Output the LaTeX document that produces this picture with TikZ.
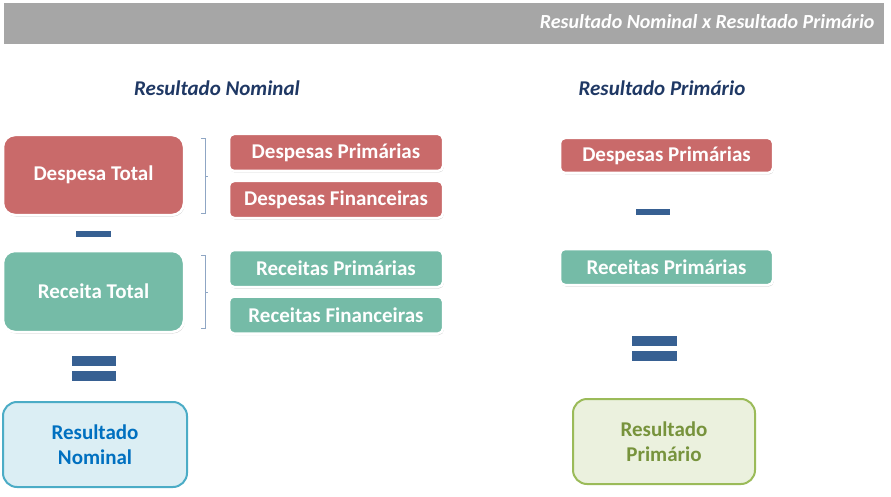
\documentclass[tikz,border=0pt]{standalone}
\usepackage{fontspec}
\setmainfont{Carlito}
\usetikzlibrary{shadows}
\definecolor{redbox}{HTML}{C96A6A}
\definecolor{tealbox}{HTML}{75BBA7}
\definecolor{signblue}{HTML}{376092}
\definecolor{headblue}{HTML}{1F3864}
\definecolor{bargray}{HTML}{A6A6A6}
\definecolor{brackcol}{HTML}{8FA6C4}
\definecolor{nomfill}{HTML}{DBEEF4}
\definecolor{nomdraw}{HTML}{4BACC6}
\definecolor{nomtext}{HTML}{0070C0}
\definecolor{prifill}{HTML}{EBF1DE}
\definecolor{pridraw}{HTML}{9BBB59}
\definecolor{pritext}{HTML}{77933C}
\begin{document}
\begin{tikzpicture}[x=1pt,y=-1pt,
  shad/.style={drop shadow={shadow xshift=0.8pt,shadow yshift=-1.5pt,fill=black!40,opacity=0.45}},
  bigbox/.style={shad,draw=white,line width=2.5pt,rounded corners=12pt,inner sep=0pt,
    text=white,font=\bfseries\fontsize{21}{25}\selectfont},
  smallbox/.style={shad,draw=white,line width=2.5pt,rounded corners=5pt,inner sep=0pt,
    text=white,font=\bfseries\fontsize{21}{25}\selectfont,minimum width=214pt,minimum height=37pt},
  resbox/.style={line width=2pt,rounded corners=14pt,inner sep=0pt,align=center,
    font=\bfseries\fontsize{21}{25}\selectfont,minimum width=183pt,minimum height=85pt},
  head/.style={text=headblue,font=\bfseries\itshape\fontsize{21}{25}\selectfont},
  sign/.style={fill=signblue},
  brack/.style={draw=brackcol,line width=0.9pt}
]
\useasboundingbox (0,0) rectangle (891,497);
% top bar
\fill[bargray] (4,3) rectangle (884,44);
\node[anchor=east,text=white,font=\bfseries\itshape\fontsize{20}{24}\selectfont] (title) at (878,22) {Resultado Nominal x Resultado Primário};
% headings
\node[head] (hn) at (217,88) {Resultado Nominal};
\node[head] (hp) at (662,88) {Resultado Primário};
% left big boxes
\node[bigbox,fill=redbox,minimum width=181pt,minimum height=80pt] (dt) at (93.5,175) {Despesa Total};
\node[bigbox,fill=tealbox,minimum width=181pt,minimum height=81pt] (rt) at (93.5,291.5) {Receita Total};
% small boxes
\node[smallbox,fill=redbox] (dp) at (336,152.5) {Despesas Primárias};
\node[smallbox,fill=redbox] (df) at (336,199.5) {Despesas Financeiras};
\node[smallbox,fill=tealbox] (rp) at (336,268.5) {Receitas Primárias};
\node[smallbox,fill=tealbox] (rf) at (336,315) {Receitas Financeiras};
% brackets
\draw[brack] (201,138) -- (205,138) -- (205,213) -- (201,213);
\draw[brack] (205,176) -- (208,176);
\draw[brack] (201,255) -- (205,255) -- (205,328) -- (201,328);
\draw[brack] (205,292) -- (208,292);
% signs left
\fill[sign] (76,231) rectangle (111,237);
\fill[sign] (72,356) rectangle (116,366);
\fill[sign] (72,371) rectangle (116,381);
% result nominal
\node[resbox,draw=nomdraw,fill=nomfill,text=nomtext,minimum width=184pt] (rn) at (95,444.5) {Resultado\\Nominal};
% right side
\node[smallbox,fill=redbox,minimum width=213pt,minimum height=35pt] (dp2) at (666.5,155.5) {Despesas Primárias};
\node[smallbox,fill=tealbox,minimum width=213pt,minimum height=36pt] (rp2) at (666.5,267) {Receitas Primárias};
\fill[sign] (636,209) rectangle (670,215);
\fill[sign] (632,336) rectangle (677,346);
\fill[sign] (632,351) rectangle (677,361);
\node[resbox,draw=pridraw,fill=prifill,text=pritext,minimum width=182pt] (rpr) at (664,441.5) {Resultado\\Primário};
\end{tikzpicture}
\end{document}
